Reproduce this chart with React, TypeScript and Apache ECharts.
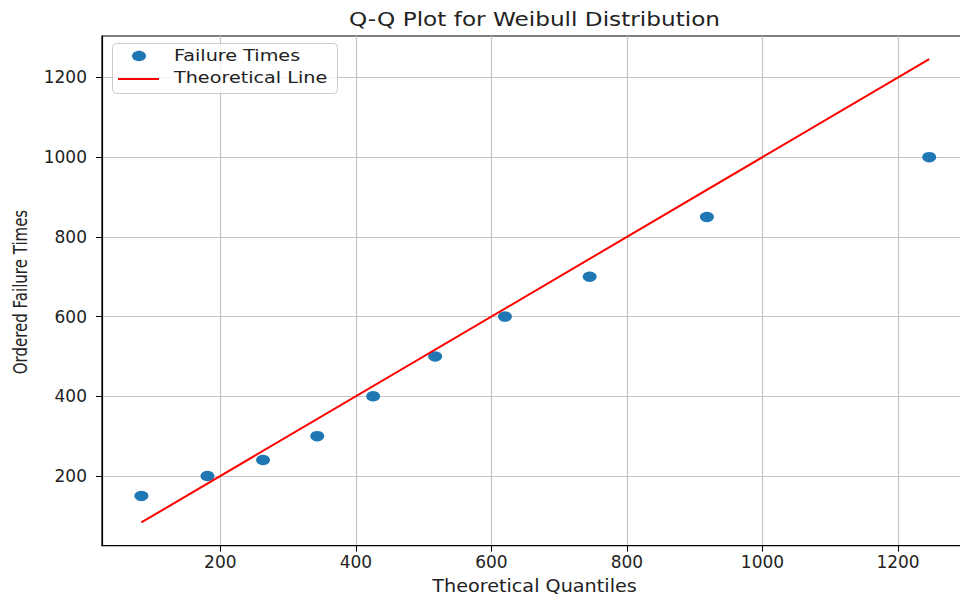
import React, { useEffect, useRef } from "react";
import * as echarts from "echarts";

const theoreticalQuantiles = [83.5, 181, 263, 343, 425.5, 517, 620, 745, 918, 1246];
const failureTimes = [150, 200, 240, 300, 400, 500, 600, 700, 850, 1000];
const xTicks = [200, 400, 600, 800, 1000, 1200];
const yTicks = [200, 400, 600, 800, 1000, 1200];
const axisMin = 25.4;
const axisMax = 1304;

const titleText = "Q-Q Plot for Weibull Distribution";
const xName = "Theoretical Quantiles";
const yName = "Ordered Failure Times";
const seriesNames = ["Failure Times", "Theoretical Line"];

export default function App() {
  const ref = useRef<HTMLDivElement>(null);
  useEffect(() => {
    if (!ref.current) return;
    const chart = echarts.init(ref.current, null, { renderer: "svg" });
    const points = theoreticalQuantiles.map((q, i) => [q, failureTimes[i]]);
    const qMin = Math.min(...theoreticalQuantiles);
    const qMax = Math.max(...theoreticalQuantiles);
    const lineData = [
      [qMin, qMin],
      [qMax, qMax],
    ];
    const font = "DejaVu Sans";
    const txt = "#222";
    const axisCommon = (ticks: number[], labelFont: string, labelSize: number, margin: number) => ({
      type: "value",
      min: axisMin,
      max: axisMax,
      splitNumber: 6,
      axisLine: { show: true, onZero: false, lineStyle: { color: "#000", width: 1.2 } },
      axisTick: {
        show: true,
        customValues: ticks,
        length: 6,
        lineStyle: { color: "#000", width: 1 },
      },
      axisLabel: {
        customValues: ticks,
        formatter: (v: number) => (v % 200 === 0 ? String(v) : ""),
        fontFamily: labelFont,
        fontSize: labelSize,
        color: txt,
        margin,
      },
      splitLine: { show: true, lineStyle: { color: "#c4c4c4", width: 1.2 } },
    });
    chart.setOption({
      animation: false,
      backgroundColor: "#fff",
      grid: {
        left: 102,
        top: 36,
        width: 866.5,
        height: 509.6,
        show: true,
        borderColor: "#000",
        borderWidth: 1.2,
        backgroundColor: "transparent",
        containLabel: false,
        outerBoundsMode: "none",
      },
      xAxis: axisCommon(xTicks, font, 17, 8),
      yAxis: axisCommon(yTicks, font, 17, 15),
      series: [
        {
          name: seriesNames[0],
          type: "scatter",
          data: points,
          symbol: "circle",
          symbolSize: [14, 10.5],
          itemStyle: { color: "#1f77b4", opacity: 1 },
          z: 3,
        },
        {
          name: seriesNames[1],
          type: "line",
          data: lineData,
          showSymbol: false,
          symbol: "none",
          lineStyle: { color: "#ff0000", width: 2 },
          z: 4,
        },
      ],
      graphic: [
        {
          type: "text",
          x: 534.5,
          y: 19,
          scaleX: 1.22,
          z: 100,
          style: {
            text: titleText,
            fontFamily: font,
            fontSize: 19,
            fill: txt,
            align: "center",
            verticalAlign: "middle",
          },
        },
        {
          type: "text",
          x: 534.5,
          y: 586,
          scaleX: 1.13,
          z: 100,
          style: {
            text: xName,
            fontFamily: font,
            fontSize: 17,
            fill: txt,
            align: "center",
            verticalAlign: "middle",
          },
        },
        {
          type: "text",
          x: 20,
          y: 292,
          rotation: Math.PI / 2,
          scaleY: 1.25,
          z: 100,
          style: {
            text: yName,
            fontFamily: font,
            fontSize: 15,
            fill: txt,
            align: "center",
            verticalAlign: "middle",
          },
        },
        {
          type: "rect",
          z: 100,
          shape: { x: 112.5, y: 43.5, width: 225, height: 50, r: 4 },
          style: { fill: "rgba(255,255,255,0.8)", stroke: "#cccccc", lineWidth: 1 },
        },
        {
          type: "ellipse",
          z: 101,
          shape: { cx: 139, cy: 56, rx: 7, ry: 5.2 },
          style: { fill: "#1f77b4" },
        },
        {
          type: "line",
          z: 101,
          shape: { x1: 118, y1: 79, x2: 159, y2: 79 },
          style: { stroke: "#ff0000", lineWidth: 2 },
        },
        {
          type: "text",
          x: 174,
          y: 56,
          scaleX: 1.2,
          z: 101,
          style: {
            text: seriesNames[0],
            fontFamily: font,
            fontSize: 16,
            fill: txt,
            align: "left",
            verticalAlign: "middle",
          },
        },
        {
          type: "text",
          x: 174,
          y: 77.5,
          scaleX: 1.2,
          z: 101,
          style: {
            text: seriesNames[1],
            fontFamily: font,
            fontSize: 16,
            fill: txt,
            align: "left",
            verticalAlign: "middle",
          },
        },
      ],
    });
    return () => chart.dispose();
  }, []);
  return (
    <div
      ref={ref}
      style={{ position: "fixed", left: 0, top: 0, width: 960, height: 597, background: "#fff" }}
    />
  );
}
